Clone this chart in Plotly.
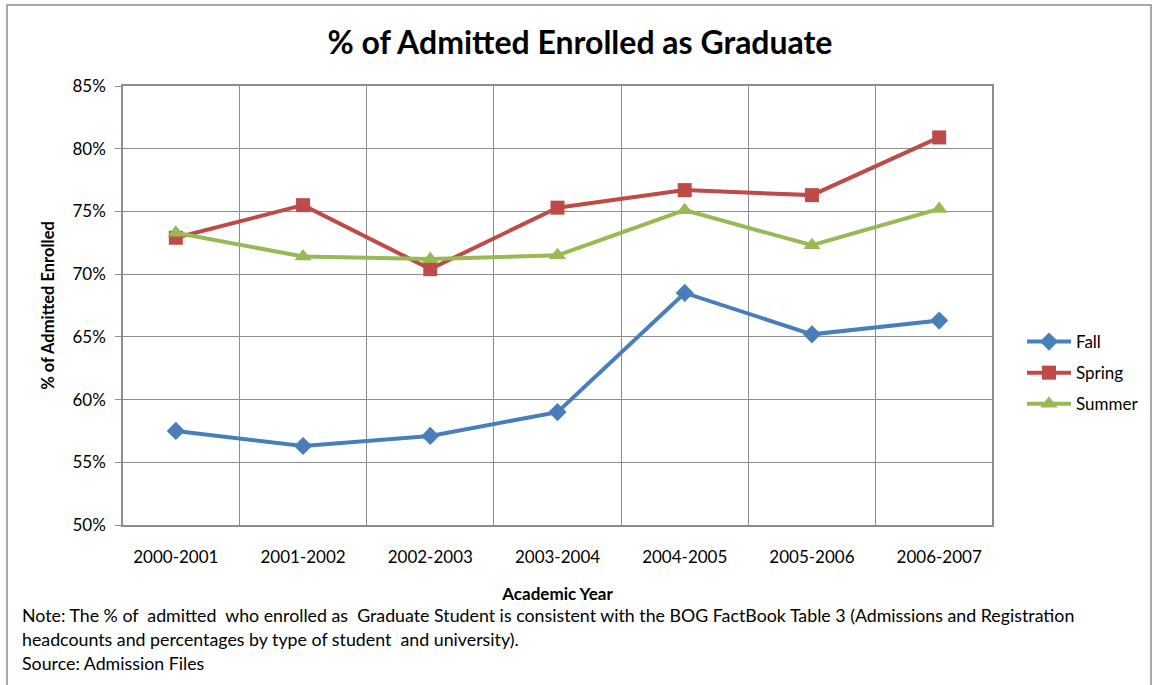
import plotly.graph_objects as go

years = ["2000-2001", "2001-2002", "2002-2003", "2003-2004", "2004-2005", "2005-2006", "2006-2007"]
fall = [57.5, 56.3, 57.1, 59.0, 68.5, 65.2, 66.3]
spring = [72.9, 75.5, 70.4, 75.3, 76.7, 76.3, 80.9]
summer = [73.3, 71.4, 71.2, 71.5, 75.1, 72.3, 75.2]

FONT = "Lato"

fig = go.Figure()
fig.add_trace(go.Scatter(x=years, y=fall, name="Fall", mode="lines+markers", legendgroup="a",
                         line=dict(color="#4A7EBB", width=4),
                         marker=dict(symbol="diamond", size=14, color="#4A7EBB")))
fig.add_trace(go.Scatter(x=years, y=spring, name="Spring", mode="lines+markers", legendgroup="b",
                         line=dict(color="#BE4B48", width=4),
                         marker=dict(symbol="square", size=14, color="#BE4B48")))
fig.add_trace(go.Scatter(x=years, y=summer, name="Summer", mode="lines+markers", legendgroup="c",
                         line=dict(color="#98B954", width=4),
                         marker=dict(symbol="triangle-up", size=15, color="#98B954")))

fig.update_layout(
    width=1160, height=685,
    margin=dict(l=123, r=168, t=86, b=160),
    paper_bgcolor="white", plot_bgcolor="white",
    font=dict(family=FONT, size=17, color="black"),
    title=dict(text="<b>% of Admitted Enrolled as Graduate</b>", x=0.5, xanchor="center",
               y=1 - 43 / 685, yanchor="middle", font=dict(size=32, family=FONT)),
    legend=dict(xref="container", yref="container", x=1022 / 1160, y=1 - 324 / 685,
                yanchor="top", xanchor="left",
                font=dict(size=17), tracegroupgap=6, itemwidth=44,
                bgcolor="rgba(0,0,0,0)"),
    showlegend=True,
)

fig.update_xaxes(type="category", tickson="boundaries", showgrid=True, gridcolor="#8C8C8C",
                 gridwidth=1, showline=True, linecolor="#8C8C8C", linewidth=1.5, mirror=True,
                 ticks="", tickfont=dict(size=17), ticklabelstandoff=16,
                 title=dict(text="<b>Academic Year</b>", font=dict(size=17), standoff=22))
fig.update_yaxes(range=[50, 85], dtick=5, ticksuffix="%", showgrid=True, gridcolor="#8C8C8C",
                 gridwidth=1, showline=True, linecolor="#8C8C8C", linewidth=1.5, mirror=True,
                 ticks="outside", ticklen=6, tickcolor="#8C8C8C", tickfont=dict(size=17),
                 ticklabelstandoff=6, zeroline=False,
                 title=dict(text="<b>% of Admitted Enrolled</b>", font=dict(size=16.5), standoff=14))

notes = [
    "Note: The % of  admitted  who enrolled as  Graduate Student is consistent with the BOG FactBook Table 3 (Admissions and Registration",
    "headcounts and percentages by type of student  and university).",
    "Source: Admission Files",
]
for i, t in enumerate(notes):
    fig.add_annotation(text=t, xref="paper", yref="paper", x=(20 - 123) / 869,
                       y=-(615 + i * 24 - 525) / 439, xanchor="left", yanchor="middle",
                       showarrow=False, font=dict(size=17.8, family=FONT))

fig.add_shape(type="rect", xref="paper", yref="paper",
              x0=(7 - 123) / 869, x1=(1151 - 123) / 869,
              y0=(525 - 688) / 439, y1=(525 - 5) / 439,
              line=dict(color="#8C8C8C", width=1.5), fillcolor="rgba(0,0,0,0)", layer="below")

fig.write_html("out.html")
